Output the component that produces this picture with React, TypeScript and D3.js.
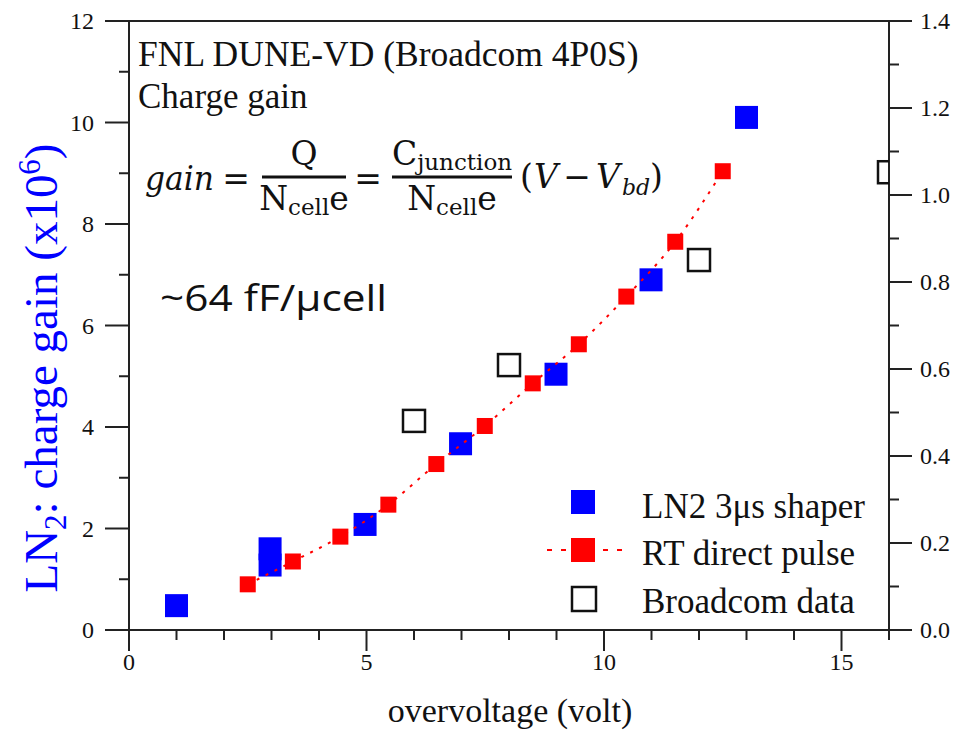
import React from "react";
import * as d3 from "d3";

const ln2X = [1.0, 2.97, 2.97, 4.97, 6.98, 8.99, 10.99, 13.0];
const ln2Y = [0.48, 1.6, 1.28, 2.08, 3.67, 5.04, 6.9, 10.1];

const rtX = [2.5, 3.45, 4.45, 5.46, 6.47, 7.49, 8.5, 9.47, 10.47, 11.5, 12.5];
const rtY = [0.9, 1.35, 1.84, 2.47, 3.27, 4.02, 4.86, 5.63, 6.57, 7.65, 9.04];

const bcX = [6.0, 8.0, 12.0, 16.0];
const bcY = [4.12, 5.22, 7.29, 9.02];

const xMajor = [0, 5, 10, 15];
const yMajor = [0, 2, 4, 6, 8, 10, 12];
const y2Major = [0, 0.2, 0.4, 0.6, 0.8, 1.0, 1.2, 1.4];

const legendLabels = ["LN2 3\u03bcs shaper", "RT direct pulse", "Broadcom data"];

const W = 961;
const H = 731;
const L = 129, R = 889, T = 21, B = 630;

export default function App() {
  const x = d3.scaleLinear().domain([0, 16]).range([L, R]);
  const y = d3.scaleLinear().domain([0, 12]).range([B, T]);
  const y2 = d3.scaleLinear().domain([0, 1.4]).range([B, T]);

  const xMinor = d3.range(0, 17, 1).filter((v) => v % 5 !== 0);
  const yMinor = d3.range(1, 12, 2);
  const y2Minor = d3.range(0.1, 1.4, 0.2);

  const line = d3
    .line<number>()
    .x((_, i) => x(rtX[i]))
    .y((d) => y(d))
    .curve(d3.curveMonotoneX);

  const serif = "'Liberation Serif', 'Times New Roman', serif";
  const math = "'DejaVu Serif', serif";
  const blue = "#0000ff";
  const red = "#ff0000";
  const bs = 23;
  const rs = 16;
  const ink = "#111";

  return (
    <svg width={W} height={H} style={{ position: "absolute", left: 0, top: 0 }} fontFamily={serif}>
      <defs>
        <clipPath id="plotclip">
          <rect x={L} y={T} width={R - L} height={B - T} />
        </clipPath>
      </defs>
      <rect x={0} y={0} width={W} height={H} fill="#fff" />

      {/* frame */}
      <line x1={L} x2={R} y1={T} y2={T} stroke="#222" strokeWidth={2} />
      <line x1={L} x2={L} y1={T} y2={B + 21} stroke="#222" strokeWidth={2} />
      <line x1={R} x2={R} y1={T} y2={B} stroke="#222" strokeWidth={2} />
      <line x1={L - 24} x2={R} y1={B} y2={B} stroke="#222" strokeWidth={2} />

      {/* x ticks */}
      {xMajor.map((v) => (
        <g key={"xm" + v}>
          <line x1={x(v)} x2={x(v)} y1={B} y2={B + 21} stroke="#222" strokeWidth={2} />
          <text x={x(v)} y={B + 40} fontSize={24} textAnchor="middle" fill={ink}>
            {v}
          </text>
        </g>
      ))}
      {xMinor.map((v) => (
        <line key={"xn" + v} x1={x(v)} x2={x(v)} y1={B} y2={B + 10} stroke="#222" strokeWidth={2} />
      ))}

      {/* left y ticks */}
      {yMajor.map((v) => (
        <g key={"ym" + v}>
          <line x1={L - 24} x2={L} y1={y(v)} y2={y(v)} stroke="#222" strokeWidth={2} />
          <text x={L - 35} y={y(v) + 8} fontSize={24} textAnchor="end" fill={ink}>
            {v}
          </text>
        </g>
      ))}
      {yMinor.map((v) => (
        <line key={"yn" + v} x1={L - 10} x2={L} y1={y(v)} y2={y(v)} stroke="#222" strokeWidth={2} />
      ))}

      {/* right y ticks */}
      {y2Major.map((v) => (
        <g key={"y2m" + v}>
          <line x1={R} x2={R + 23} y1={y2(v)} y2={y2(v)} stroke="#222" strokeWidth={2} />
          <text x={R + 31} y={y2(v) + 8} fontSize={24} textAnchor="start" fill={ink}>
            {v.toFixed(1)}
          </text>
        </g>
      ))}
      {y2Minor.map((v) => (
        <line key={"y2n" + v} x1={R} x2={R + 10} y1={y2(v)} y2={y2(v)} stroke="#222" strokeWidth={2} />
      ))}

      {/* axis titles */}
      <text x={510} y={722} fontSize={34} textAnchor="middle" fill={ink}>
        overvoltage (volt)
      </text>
      <text transform={`translate(57, 368) rotate(-90)`} fontSize={47} textAnchor="middle" fill={blue}>
        LN
        <tspan fontSize={31} dy={9}>2</tspan>
        <tspan dy={-9}>: charge gain (x10</tspan>
        <tspan fontSize={31} dy={-17}>6</tspan>
        <tspan dy={17}>)</tspan>
      </text>

      {/* annotations */}
      <text x={138} y={66} fontSize={35.5} fill={ink}>FNL DUNE-VD (Broadcom 4P0S)</text>
      <text x={138} y={108} fontSize={35} fill={ink}>Charge gain</text>

      <g fill={ink} fontSize={33} fontFamily={math}>
        <text x={145} y={190} fontStyle="italic" textLength={69} lengthAdjust="spacingAndGlyphs">gain</text>
        <text x={236} y={190} textAnchor="middle">=</text>
        <line x1={262} x2={346} y1={177} y2={177} stroke={ink} strokeWidth={3} />
        <text x={304} y={165} textAnchor="middle">Q</text>
        <text x={304} y={210} textAnchor="middle">
          N<tspan fontSize={23} dy={5}>cell</tspan>
          <tspan dy={-5}>e</tspan>
        </text>
        <text x={368} y={190} textAnchor="middle">=</text>
        <line x1={392} x2={512} y1={177} y2={177} stroke={ink} strokeWidth={3} />
        <text x={452} y={165} textAnchor="middle">
          C<tspan fontSize={23} dy={5}>junction</tspan>
        </text>
        <text x={452} y={210} textAnchor="middle">
          N<tspan fontSize={23} dy={5}>cell</tspan>
          <tspan dy={-5}>e</tspan>
        </text>
        <text x={520} y={188}>(</text>
        <text x={534} y={188} fontStyle="italic">V</text>
        <text x={577} y={188} textAnchor="middle">{"\u2212"}</text>
        <text x={596} y={188} fontStyle="italic">V</text>
        <text x={622} y={195} fontStyle="italic" fontSize={22}>bd</text>
        <text x={650} y={188}>)</text>
      </g>

      <text
        x={160}
        y={311}
        fontSize={37}
        fontFamily="'Open Sans', 'Noto Sans', sans-serif"
        fill={ink}
        textLength={227}
        lengthAdjust="spacingAndGlyphs"
      >
        ~64 fF/{"\u03bc"}cell
      </text>

      {/* data */}
      <g clipPath="url(#plotclip)">
        {ln2Y.map((v, i) => (
          <rect key={"b" + i} x={x(ln2X[i]) - bs / 2} y={y(v) - bs / 2} width={bs} height={bs} fill={blue} />
        ))}
        <path d={line(rtY) || ""} fill="none" stroke={red} strokeWidth={2} strokeDasharray="3,7" />
        {rtY.map((v, i) => (
          <rect key={"r" + i} x={x(rtX[i]) - rs / 2} y={y(v) - rs / 2} width={rs} height={rs} fill={red} />
        ))}
        {bcY.map((v, i) => (
          <rect
            key={"o" + i}
            x={x(bcX[i]) - 11}
            y={y(v) - 11}
            width={22}
            height={22}
            fill="none"
            stroke={ink}
            strokeWidth={2.5}
          />
        ))}
      </g>

      {/* legend */}
      <g>
        <rect x={583 - 12} y={502 - 12} width={24} height={24} fill={blue} />
        <text x={642} y={518} fontSize={35} fill={ink}>{legendLabels[0]}</text>
        <line x1={547} x2={630} y1={550} y2={550} stroke={red} strokeWidth={2} strokeDasharray="5,9" />
        <rect x={583 - 12} y={550 - 12} width={24} height={24} fill={red} />
        <text x={642} y={565} fontSize={35} fill={ink}>{legendLabels[1]}</text>
        <rect x={584 - 12} y={599 - 12} width={24} height={24} fill="none" stroke={ink} strokeWidth={2.5} />
        <text x={642} y={613} fontSize={35} fill={ink}>{legendLabels[2]}</text>
      </g>
    </svg>
  );
}
